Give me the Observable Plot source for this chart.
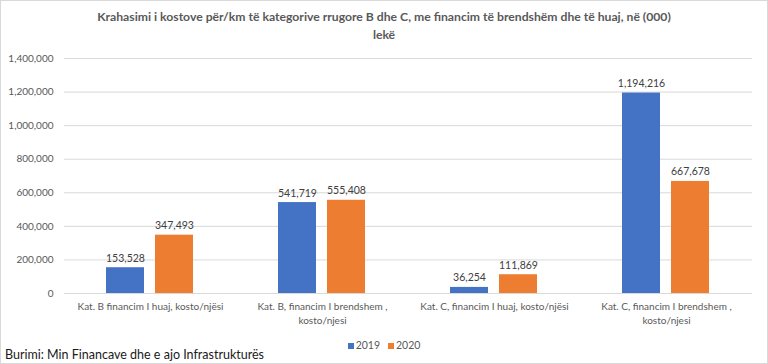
<!DOCTYPE html>
<html>
<head>
<meta charset="utf-8">
<script src="https://cdn.jsdelivr.net/npm/d3@7"></script>
<script src="https://cdn.jsdelivr.net/npm/@observablehq/plot@0.6"></script>
<style>
  html, body { margin: 0; padding: 0; background: #fff; }
  #wrap { position: relative; box-sizing: border-box; width: 768px; height: 364px; border: 1px solid #d9d9d9; background: #fff; font-family: Lato, "Open Sans", sans-serif; overflow: hidden; }
  #title { position: absolute; left: 0; top: 7px; width: 766px; text-align: center; font-size: 12.2px; font-weight: bold; color: #595959; line-height: 18px; }
  #chart { position: absolute; left: 0; top: 43px; }
  #legend { position: absolute; left: 0; top: 337px; width: 766px; text-align: center; font-size: 10.5px; color: #595959; line-height: 14px; }
  #legend span.sw { display: inline-block; width: 6px; height: 6px; margin-right: 2px; vertical-align: 0px; }
  #legend span.it { margin: 0 4px; }
  #source { position: absolute; left: 4px; top: 346px; font-size: 12.5px; color: #1a1a1a; line-height: 16px; }
</style>
</head>
<body>
<div id="wrap">
  <div id="title"></div>
  <div id="chart"></div>
  <div id="legend"></div>
  <div id="source"></div>
</div>
<script>
const titleLines = ["Krahasimi i kostove për/km të kategorive rrugore B dhe C, me financim të brendshëm dhe të huaj, në (000)", "lekë"];
const sourceText = "Burimi: Min Financave dhe e ajo Infrastrukturës";
const categories = [
  "Kat. B financim I huaj, kosto/njësi",
  "Kat. B, financim I brendshem , kosto/njesi",
  "Kat. C, financim I huaj, kosto/njësi",
  "Kat. C, financim I brendshem , kosto/njesi"
];
const categoryLabels = [
  "Kat. B financim I huaj, kosto/njësi",
  "Kat. B, financim I brendshem ,\nkosto/njesi",
  "Kat. C, financim I huaj, kosto/njësi",
  "Kat. C, financim I brendshem ,\nkosto/njesi"
];
const years = ["2019", "2020"];
const values2019 = [153528, 541719, 36254, 1194216];
const values2020 = [347493, 555408, 111869, 667678];
const yTicks = [0, 200000, 400000, 600000, 800000, 1000000, 1200000, 1400000];
const colors = ["#4472C4", "#ED7D31"];

const data = [];
categories.forEach((c, i) => {
  data.push({category: c, year: years[0], value: values2019[i]});
  data.push({category: c, year: years[1], value: values2020[i]});
});
const labelMap = new Map(categories.map((c, i) => [c, categoryLabels[i]]));
const fmt = d3.format(",");

document.getElementById("title").innerHTML = titleLines.join("<br>");
document.getElementById("source").textContent = sourceText;
document.getElementById("legend").innerHTML = years.map((y, i) =>
  `<span class="it"><span class="sw" style="background:${colors[i]}"></span>${y}</span>`).join("");

const plot = Plot.plot({
  width: 766,
  height: 292,
  marginLeft: 62,
  marginRight: 14,
  marginTop: 14,
  marginBottom: 43,
  style: {fontFamily: "Lato, 'Open Sans', sans-serif", fontSize: "10px", color: "#595959", background: "transparent"},
  fx: {domain: categories, padding: 0, label: null},
  x: {domain: years, paddingInner: 0.22, paddingOuter: 0.835, axis: null},
  y: {domain: [0, 1400000], label: null, axis: null},
  color: {domain: years, range: colors},
  marks: [
    Plot.gridY(yTicks, {stroke: "#d9d9d9", strokeOpacity: 1}),
    Plot.axisY(yTicks, {tickSize: 0, tickPadding: 11, tickFormat: fmt, label: null, fontSize: 10}),
    Plot.axisFx({anchor: "bottom", tickSize: 0, tickPadding: 7, tickFormat: d => labelMap.get(d), label: null, lineHeight: 1.4, fontSize: 10}),
    Plot.barY(data, {fx: "category", x: "year", y: "value", fill: "year"}),
    Plot.text(data, {fx: "category", x: "year", y: "value", text: d => fmt(d.value), lineAnchor: "bottom", dy: -6, fill: "#404040", fontSize: 10.5})
  ]
});
document.getElementById("chart").appendChild(plot);
</script>
</body>
</html>
